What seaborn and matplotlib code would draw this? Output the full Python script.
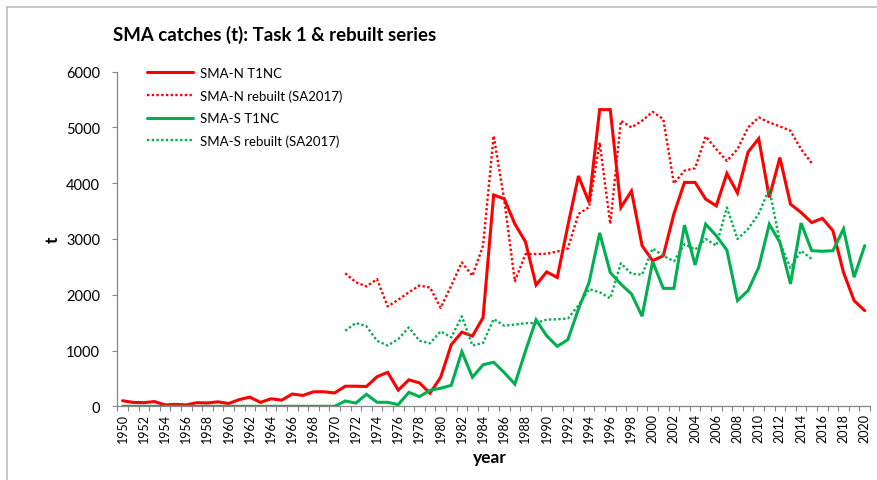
import numpy as np
import pandas as pd
import matplotlib
matplotlib.use("Agg")
import matplotlib.pyplot as plt
from matplotlib.lines import Line2D
from matplotlib.ticker import FixedLocator
import seaborn as sns

# ---- data -------------------------------------------------------------
years = list(range(1950, 2021))
years_rebuilt = list(range(1971, 2016))

sma_n_t1nc = [100, 70, 65, 85, 25, 35, 25, 65, 60, 80,
              50, 120, 165, 70, 135, 110, 220, 195, 260, 260,
              240, 360, 360, 355, 530, 610, 290, 475, 420, 235,
              520, 1105, 1330, 1260, 1590, 3790, 3720, 3270, 2950, 2175,
              2410, 2310, 3240, 4130, 3655, 5320, 5320, 3565, 3860, 2880,
              2610, 2700, 3450, 4015, 4015, 3715, 3595, 4175, 3825, 4560,
              4800, 3745, 4460, 3625, 3475, 3295, 3370, 3150, 2400, 1895,
              1715]

sma_s_t1nc = [0, 0, 0, 0, 0, 0, 0, 0, 0, 0,
              0, 0, 0, 0, 0, 0, 0, 0, 0, 0,
              0, 95, 58, 215, 72, 72, 30, 250, 173, 287,
              323, 377, 980, 520, 745, 790, 605, 398, 990, 1550,
              1265, 1075, 1195, 1745, 2220, 3110, 2400, 2190, 2015, 1615,
              2595, 2115, 2115, 3250, 2535, 3265, 3060, 2800, 1895, 2075,
              2490, 3265, 2940, 2195, 3285, 2790, 2780, 2790, 3180, 2315,
              2880]

sma_n_rebuilt = [2385, 2225, 2150, 2280, 1790, 1910, 2045, 2165, 2130,
                 1765, 2165, 2580, 2340, 2880, 4850, 3700, 2240, 2730, 2730,
                 2735, 2775, 2830, 3450, 3570, 4730, 3270, 5120, 5000, 5120,
                 5280, 5150, 3995, 4225, 4270, 4840, 4610, 4400, 4610, 5000,
                 5180, 5090, 5020, 4940, 4610, 4360]

sma_s_rebuilt = [1355, 1495, 1435, 1175, 1090, 1205, 1415, 1175, 1130,
                 1345, 1235, 1615, 1090, 1135, 1565, 1445, 1465, 1490, 1495,
                 1555, 1560, 1575, 1810, 2100, 2045, 1935, 2565, 2375, 2360,
                 2830, 2700, 2600, 2910, 2810, 3000, 2880, 3565, 3000, 3180,
                 3450, 3905, 2940, 2480, 2790, 2640]

series_labels = ["SMA-N T1NC", "SMA-N rebuilt (SA2017)",
                 "SMA-S T1NC", "SMA-S rebuilt (SA2017)"]
y_ticks = [0, 1000, 2000, 3000, 4000, 5000, 6000]
x_tick_years = list(range(1950, 2021, 2))

RED = "#FF0000"
GREEN = "#00B050"
AXIS_GREY = "#868686"

# ---- styling ----------------------------------------------------------
sns.set_theme(style="white")
plt.rcParams["font.family"] = ["Lato", "DejaVu Sans"]

fig = plt.figure(figsize=(8.78, 4.81), dpi=100)
ax = fig.add_axes([117.3 / 878, 1 - 407.3 / 481, (870 - 117.3) / 878, (407.3 - 72.7) / 481])

frames = [
    (pd.DataFrame({"year": years, "t": sma_n_t1nc}), RED, "-", series_labels[0]),
    (pd.DataFrame({"year": years_rebuilt, "t": sma_n_rebuilt}), RED, ":", series_labels[1]),
    (pd.DataFrame({"year": years, "t": sma_s_t1nc}), GREEN, "-", series_labels[2]),
    (pd.DataFrame({"year": years_rebuilt, "t": sma_s_rebuilt}), GREEN, ":", series_labels[3]),
]

for df, color, ls, label in frames:
    if ls == "-":
        sns.lineplot(data=df, x="year", y="t", ax=ax, color=color, linewidth=2.2,
                     label=label, solid_joinstyle="miter")
    else:
        sns.lineplot(data=df, x="year", y="t", ax=ax, color=color, linewidth=1.7,
                     linestyle=(0, (1, 1)), label=label)

# ---- axes -------------------------------------------------------------
ax.set_xlim(1949.5, 2020.5)
ax.set_ylim(0, 6000)
ax.set_yticks(y_ticks)
ax.set_yticklabels([str(v) for v in y_ticks], fontsize=10.5, color="black")
ax.xaxis.set_major_locator(FixedLocator(x_tick_years))
ax.set_xticklabels([str(y) for y in x_tick_years], rotation=90, fontsize=9, color="black")
ax.xaxis.set_minor_locator(FixedLocator([y + 0.5 for y in range(1949, 2021)]))
ax.tick_params(axis="x", which="major", length=0, pad=5)
ax.tick_params(axis="x", which="minor", length=3.5, width=0.8, color=AXIS_GREY, direction="out", bottom=True)
ax.tick_params(axis="y", which="major", length=3.5, width=0.8, color=AXIS_GREY, direction="out", left=True, pad=9)

for side in ("top", "right"):
    ax.spines[side].set_visible(False)
for side in ("left", "bottom"):
    ax.spines[side].set_color(AXIS_GREY)
    ax.spines[side].set_linewidth(0.9)
ax.grid(False)

ax.set_ylabel("t", rotation=90, fontsize=12.5, fontweight="bold", color="black")
ax.yaxis.set_label_coords(-0.0854, 0.5)
ax.set_xlabel("year", fontsize=12.5, fontweight="bold", color="black")
ax.xaxis.set_label_coords(0.495, -0.152)
ax.xaxis.label.set_verticalalignment("center")
ax.yaxis.label.set_verticalalignment("center")

leg = ax.legend(loc="upper left", bbox_to_anchor=(147 / 878, 1 - 68 / 481),
                bbox_transform=fig.transFigure, frameon=False, fontsize=9.5,
                handlelength=3.5, handletextpad=0.5, labelspacing=0.78,
                borderpad=0, borderaxespad=0)
for txt in leg.get_texts():
    txt.set_color("black")

fig.text(113 / 878, 1 - 35 / 481, "SMA catches (t): Task 1 & rebuilt series",
         fontsize=13.4, fontweight="bold", ha="left", va="center", color="black")

# chart frame (left and top edges)
fig.add_artist(Line2D([7.5 / 878, 7.5 / 878], [0, 1 - 7.5 / 481], transform=fig.transFigure,
                      color="#BFBFBF", linewidth=1.2))
fig.add_artist(Line2D([7.5 / 878, 1], [1 - 7.5 / 481, 1 - 7.5 / 481], transform=fig.transFigure,
                      color="#BFBFBF", linewidth=1.2))

fig.savefig("out.png", dpi=100)
